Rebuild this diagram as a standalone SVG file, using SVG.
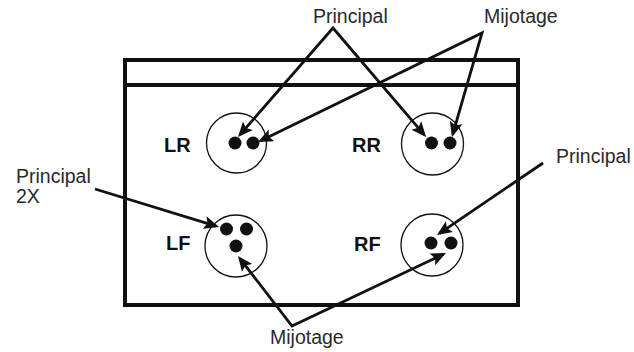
<svg xmlns="http://www.w3.org/2000/svg" width="634" height="352" viewBox="0 0 634 352">
<defs>
<style>
.lbl{font-family:"Liberation Sans",Arial,sans-serif;font-size:20px;font-weight:bold;fill:#111}
.txt{font-family:"Liberation Sans",Arial,sans-serif;font-size:19.5px;fill:#2a2a2a}
.ring{fill:#fff;stroke:#111;stroke-width:1.3}
.dot{fill:#111}
.arr{fill:none;stroke:#111;stroke-width:2.8;stroke-linejoin:miter}
</style>
<marker id="ah" markerUnits="userSpaceOnUse" markerWidth="18" markerHeight="16" viewBox="0 -8 18 16" refX="12" refY="0" orient="auto-start-reverse">
<path d="M15,0 L0,-6.5 L3,0 L0,6.5 Z" fill="#111"/>
</marker>
</defs>
<g id="frame">
<rect x="125" y="60" width="393" height="245" fill="#fff" stroke="#111" stroke-width="4"/>
<line x1="125" y1="85" x2="518" y2="85" stroke="#111" stroke-width="4"/>
</g>
<g id="LR">
<circle class="ring" cx="236.5" cy="143" r="30"/>
<circle class="dot" cx="235" cy="143" r="6.5"/>
<circle class="dot" cx="253" cy="143" r="6.5"/>
<text class="lbl" x="164" y="152">LR</text>
</g>
<g id="RR">
<circle class="ring" cx="432.5" cy="144" r="31"/>
<circle class="dot" cx="431.5" cy="143" r="6.5"/>
<circle class="dot" cx="450" cy="143" r="6.5"/>
<text class="lbl" x="352" y="152">RR</text>
</g>
<g id="LF">
<circle class="ring" cx="236" cy="246" r="31"/>
<circle class="dot" cx="226.5" cy="229" r="6.5"/>
<circle class="dot" cx="246.5" cy="229" r="6.5"/>
<circle class="dot" cx="236" cy="246" r="6.5"/>
<text class="lbl" x="166" y="250">LF</text>
</g>
<g id="RF">
<circle class="ring" cx="432" cy="245" r="31"/>
<circle class="dot" cx="431" cy="243" r="6.5"/>
<circle class="dot" cx="451" cy="243" r="6.5"/>
<text class="lbl" x="354" y="251">RF</text>
</g>
<g id="labels">
<text class="txt" x="313" y="23">Principal</text>
<text class="txt" x="484" y="23">Mijotage</text>
<text class="txt" x="16" y="183">Principal</text>
<text class="txt" x="16" y="203">2X</text>
<text class="txt" x="556" y="163">Principal</text>
<text class="txt" x="270" y="344">Mijotage</text>
</g>
<g id="connectors">
<path class="arr" d="M240,134.7 L333,28 L424.1,134.7" marker-start="url(#ah)" marker-end="url(#ah)"/>
<path class="arr" d="M260.7,140.7 L482,33 L452.8,134.1" marker-start="url(#ah)" marker-end="url(#ah)"/>
<path class="arr" d="M95,189 L216.1,226.1" marker-end="url(#ah)"/>
<path class="arr" d="M239.8,258.4 L292,326 L443.3,254.3" marker-start="url(#ah)" marker-end="url(#ah)"/>
<path class="arr" d="M543,163 L439.5,233.3" marker-end="url(#ah)"/>
</g>
</svg>
